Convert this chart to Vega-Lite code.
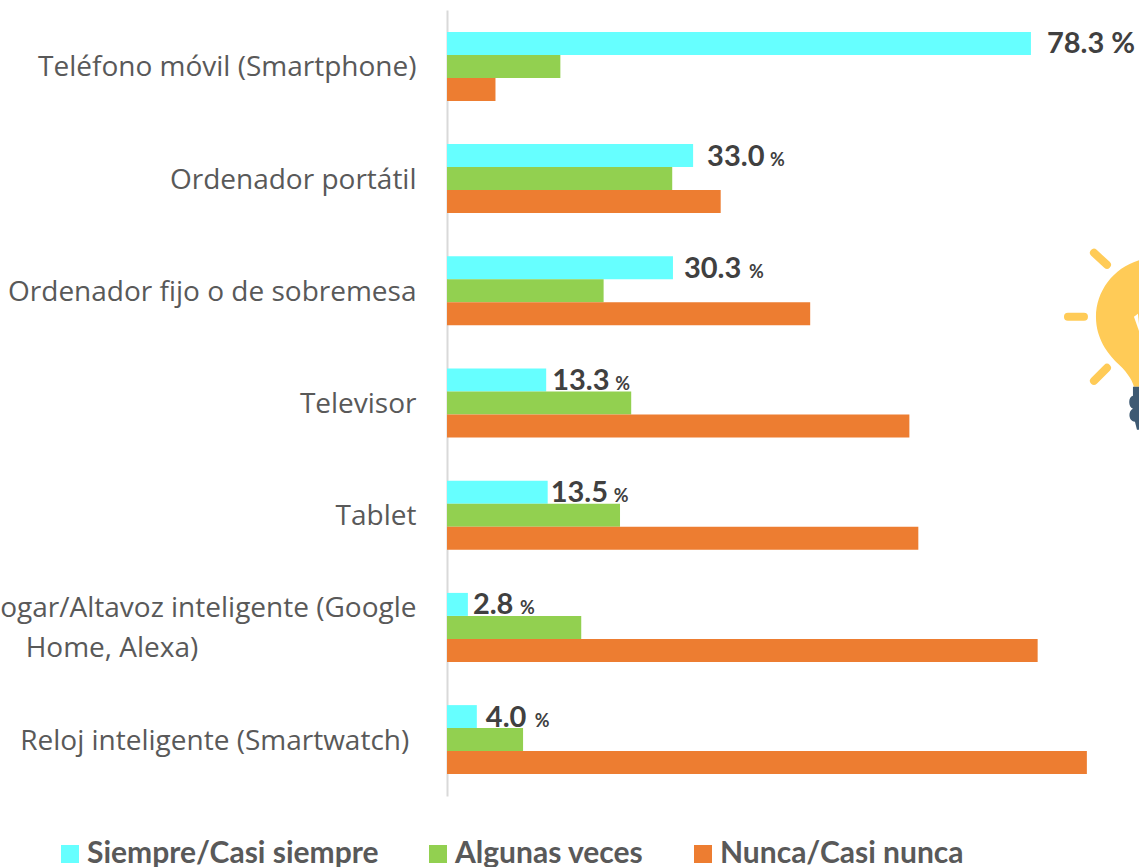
{
"$schema":"https://vega.github.io/schema/vega-lite/v6.json",
"width":692,"height":786,
"autosize":{"type":"none"},
"padding":{"left":447,"top":10,"right":0,"bottom":71},
"background":"white",
"config":{"view":{"stroke":null}},
"data":{"values":[
{"device":"Teléfono móvil (Smartphone)","series":"Siempre/Casi siempre","value":78.3,"label":"78.3 %","unit":""},
{"device":"Teléfono móvil (Smartphone)","series":"Algunas veces","value":15.2},
{"device":"Teléfono móvil (Smartphone)","series":"Nunca/Casi nunca","value":6.5},
{"device":"Ordenador portátil","series":"Siempre/Casi siempre","value":33.0,"label":"33.0","unit":"%"},
{"device":"Ordenador portátil","series":"Algunas veces","value":30.2},
{"device":"Ordenador portátil","series":"Nunca/Casi nunca","value":36.7},
{"device":"Ordenador fijo o de sobremesa","series":"Siempre/Casi siempre","value":30.3,"label":"30.3","unit":"%"},
{"device":"Ordenador fijo o de sobremesa","series":"Algunas veces","value":21.0},
{"device":"Ordenador fijo o de sobremesa","series":"Nunca/Casi nunca","value":48.7},
{"device":"Televisor","series":"Siempre/Casi siempre","value":13.3,"label":"13.3","unit":"%"},
{"device":"Televisor","series":"Algunas veces","value":24.7},
{"device":"Televisor","series":"Nunca/Casi nunca","value":62.0},
{"device":"Tablet","series":"Siempre/Casi siempre","value":13.5,"label":"13.5","unit":"%"},
{"device":"Tablet","series":"Algunas veces","value":23.2},
{"device":"Tablet","series":"Nunca/Casi nunca","value":63.2},
{"device":"Hogar/Altavoz inteligente (Google Home, Alexa)","series":"Siempre/Casi siempre","value":2.8,"label":"2.8","unit":"%"},
{"device":"Hogar/Altavoz inteligente (Google Home, Alexa)","series":"Algunas veces","value":18.0},
{"device":"Hogar/Altavoz inteligente (Google Home, Alexa)","series":"Nunca/Casi nunca","value":79.2},
{"device":"Reloj inteligente (Smartwatch)","series":"Siempre/Casi siempre","value":4.0,"label":"4.0","unit":"%"},
{"device":"Reloj inteligente (Smartwatch)","series":"Algunas veces","value":10.2},
{"device":"Reloj inteligente (Smartwatch)","series":"Nunca/Casi nunca","value":85.8}
]},
"encoding":{
"y":{"field":"device","type":"nominal","title":null,
"sort":null,
"scale":{"domain":["Teléfono móvil (Smartphone)","Ordenador portátil","Ordenador fijo o de sobremesa","Televisor","Tablet","Hogar/Altavoz inteligente (Google Home, Alexa)","Reloj inteligente (Smartwatch)"],"paddingInner":0.385,"paddingOuter":0.195},
"axis":{"ticks":false,"domainColor":"#d9d9d9","domainWidth":2,"labelFont":"Open Sans","labelFontSize":28,"labelColor":"#595959","labelPadding":31,"labelLimit":900,"labelLineHeight":40,
"labelOffset":{"condition":{"test":"datum.value=='Hogar/Altavoz inteligente (Google Home, Alexa)'","value":-18},"value":2},
"labelExpr":"datum.label=='Hogar/Altavoz inteligente (Google Home, Alexa)'?['Hogar/Altavoz inteligente (Google','Home, Alexa)\u00a0\u00a0\u00a0\u00a0\u00a0\u00a0\u00a0\u00a0\u00a0\u00a0\u00a0\u00a0\u00a0\u00a0\u00a0\u00a0\u00a0\u00a0\u00a0\u00a0\u00a0\u00a0\u00a0\u00a0\u00a0\u00a0\u00a0\u00a0\u00a0\u00a0\u200b']:(datum.label=='Reloj inteligente (Smartwatch)'?datum.label+'\u00a0\u200b':datum.label)"}},
"x":{"field":"value","type":"quantitative","title":null,"scale":{"domain":[0,92.79],"nice":false,"zero":true},"axis":null},
"yOffset":{"field":"series","type":"nominal","sort":null,"scale":{"domain":["Siempre/Casi siempre","Algunas veces","Nunca/Casi nunca"],"paddingInner":0,"paddingOuter":0}}
},
"layer":[
{"mark":{"type":"bar"},
"encoding":{"color":{"field":"series","type":"nominal","title":null,
"sort":null,
"scale":{"domain":["Siempre/Casi siempre","Algunas veces","Nunca/Casi nunca"],"range":["#66FFFF","#92D050","#ED7D31"]},
"legend":{"orient":"none","legendX":-392,"legendY":829,"direction":"horizontal","symbolType":"square","symbolSize":324,"symbolStrokeWidth":0,"symbolOpacity":1,"labelFont":"Lato","labelFontWeight":"bold","labelFontSize":30,"labelColor":"#595959","columnPadding":44,"labelOffset":2,"labelLimit":500}}}},
{"transform":[{"filter":"isValid(datum.label)"}],
"mark":{"type":"text","align":"left","baseline":"middle","font":"Lato","fontWeight":"bold","fontSize":29,"color":"#404040","dy":1,
"dx":{"expr":"{'78.3 %':16,'33.0':14,'30.3':11,'13.3':6,'13.5':3,'2.8':5,'4.0':9}[datum.label]"}},
"encoding":{"text":{"field":"label"}}},
{"transform":[{"filter":"datum.unit=='%'"}],
"mark":{"type":"text","align":"left","baseline":"middle","font":"Lato","fontWeight":"bold","fontSize":18,"color":"#404040","dy":5,
"dx":{"expr":"{'33.0':77,'30.3':76,'13.3':69,'13.5':66,'2.8':52,'4.0':58}[datum.label]"}},
"encoding":{"text":{"field":"unit"}}},
{"data":{"values":[{"device":"Ordenador fijo o de sobremesa","series":"Nunca/Casi nunca","at":94.93}]},
"layer":[
{"mark":{"type":"point","filled":true,"opacity":1,"size":40000,"fill":"#FFCB57","strokeWidth":0,
"shape":"M0.1,-0.56 C-0.3,-0.6 -0.59,-0.3 -0.59,0.03 C-0.59,0.25 -0.47,0.4 -0.38,0.49 C-0.3,0.56 -0.23,0.65 -0.21,0.73 L0.1,0.73 Z"}},
{"mark":{"type":"point","filled":false,"opacity":1,"size":40000,"stroke":"#FFCB57","strokeWidth":8,"strokeCap":"round",
"shape":"M-0.87,0.03 L-0.71,0.03 M-0.61,-0.61 L-0.48,-0.49 M-0.48,0.54 L-0.61,0.67"}},
{"mark":{"type":"point","filled":true,"opacity":1,"size":40000,"fill":"#3E5A73","strokeWidth":0,
"shape":"M-0.22,0.73 L0.1,0.73 L0.1,1.16 L-0.18,1.16 L-0.2,1.08 C-0.27,1.07 -0.27,0.97 -0.22,0.95 C-0.27,0.93 -0.27,0.83 -0.22,0.82 Z"}},
{"mark":{"type":"point","filled":true,"opacity":1,"size":40000,"fill":"#FFFFFF","strokeWidth":0,
"shape":"M-0.21,0.03 L-0.17,0.0 L-0.15,0.2 Z"}}
],
"encoding":{"x":{"field":"at","type":"quantitative"}}}
]
}
